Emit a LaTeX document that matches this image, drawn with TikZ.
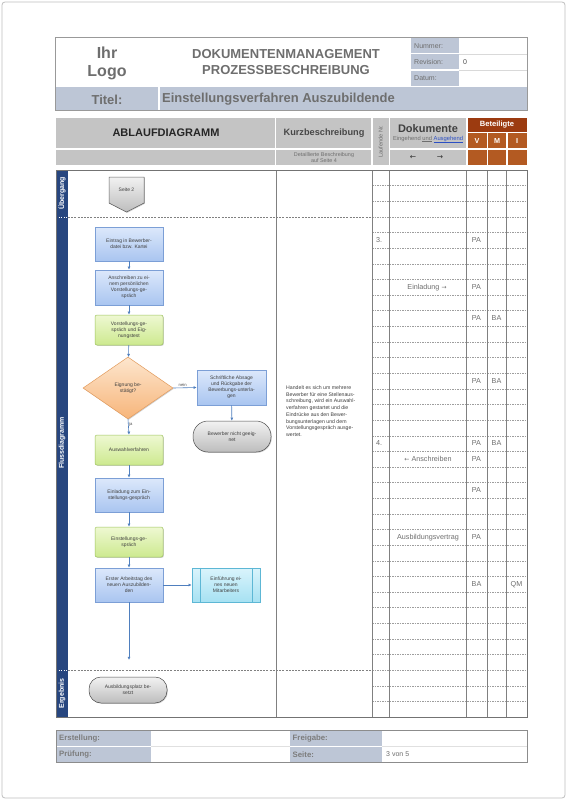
\documentclass[tikz,border=0pt]{standalone}
\usepackage{fontspec}
\setmainfont{Liberation Sans}
\newfontfamily\dejavu{DejaVu Sans}
\usetikzlibrary{shapes.geometric,arrows.meta,shadows}
\newcommand{\fz}[2]{\fontsize{#1}{#2}\selectfont}
\definecolor{lblue}{HTML}{BDC6D6}
\definecolor{hgrey}{HTML}{C4C4C4}
\definecolor{brdark}{HTML}{9C3B10}
\definecolor{brmid}{HTML}{B35A22}
\definecolor{band}{HTML}{27467F}
\definecolor{txtg}{HTML}{6E6E6E}
\definecolor{blueT}{HTML}{DCE8FB}
\definecolor{blueM}{HTML}{A9C5F0}
\definecolor{blueB}{HTML}{7C9FD6}
\definecolor{greenT}{HTML}{EEF8D2}
\definecolor{greenM}{HTML}{CDE98F}
\definecolor{greenB}{HTML}{9DC35C}
\definecolor{orT}{HTML}{FDE6CE}
\definecolor{orM}{HTML}{F7B57A}
\definecolor{orB}{HTML}{E39B5C}
\definecolor{gyT}{HTML}{F2F2F2}
\definecolor{gyM}{HTML}{BDBDBD}
\definecolor{cyT}{HTML}{DAF4FC}
\definecolor{cyM}{HTML}{A6E1F2}
\definecolor{cyB}{HTML}{5DB7D5}
\definecolor{arrowblue}{HTML}{4F7FBE}
\definecolor{linkblue}{HTML}{2B4FC4}
\tikzset{
  hdrtxt/.style={text=txtg, font=\bfseries\fz{13}{15}, inner sep=0pt},
  fieldlbl/.style={text=txtg, font=\fz{7}{8}, anchor=west, inner sep=0pt},
  footlbl/.style={text=txtg!90, font=\bfseries\fz{7.8}{9}, anchor=west, inner sep=0pt},
  tabtxt/.style={text=txtg, font=\fz{7.2}{8.2}, inner sep=0pt},
  bandtxt/.style={text=white, font=\bfseries\fz{7}{8}, rotate=90, inner sep=0pt},
  flowbox/.style={draw, line width=0.5pt, minimum width=68pt, align=center,
     font=\fz{5}{6}, text=black!75, inner sep=1pt,
     drop shadow={shadow xshift=0.8pt, shadow yshift=-0.8pt, opacity=0.3, fill=black!60}},
  bluebox/.style={flowbox, draw=blueB, top color=blueT, bottom color=blueM},
  greenbox/.style={flowbox, draw=greenB, top color=greenT, bottom color=greenM, rounded corners=2pt},
  cyanbox/.style={flowbox, draw=cyB, top color=cyT, bottom color=cyM},
  termbox/.style={flowbox, draw=black!70, top color=gyT, bottom color=gyM, rounded corners=12pt, minimum width=78pt},
  decbox/.style={flowbox, diamond, draw=orB, top color=orT, bottom color=orM, aspect=1.45, minimum width=90pt, minimum height=62pt, inner sep=0pt},
  flowarrow/.style={draw=arrowblue, line width=0.6pt, -{Latex[length=3.2pt,width=3pt]}},
  rowline/.style={draw=black!38, line width=0.4pt, dash pattern=on 1.5pt off 1pt},
  sepline/.style={draw=black!50, line width=0.5pt, dash pattern=on 2pt off 1.2pt},
  colline/.style={draw=black!50, line width=0.8pt},
  edgelbl/.style={font=\fz{4.2}{5}, text=black!70, inner sep=0.5pt}
}
\begin{document}
\begin{tikzpicture}[x=1pt,y=-1pt]
\useasboundingbox (0,0) rectangle (567,800);
\fill[white] (0,0) rectangle (567,800);
\draw[black!25, line width=0.8pt, rounded corners=3pt] (2,2) rectangle (565,798);

% ---------------- header ----------------
\draw[black!40, line width=0.6pt] (55,37) rectangle (527,110);
\fill[lblue] (411,38) rectangle (459,53.5);
\fill[lblue] (411,54.5) rectangle (459,69.5);
\fill[lblue] (411,70.5) rectangle (459,86);
\draw[black!15, line width=0.4pt] (459,54) -- (527,54) (459,70) -- (527,70);
\fill[lblue] (55.5,87) rectangle (158,109.5);
\fill[lblue] (159.5,87) rectangle (526.5,109.5);
\node[hdrtxt, font=\bfseries\fz{16}{18}] (ihr) at (107,53) {Ihr};
\node[hdrtxt, font=\bfseries\fz{16}{18}] (logo) at (107,73) {Logo};
\node[hdrtxt] (dok) at (286,54.5) {DOKUMENTENMANAGEMENT};
\node[hdrtxt] (proz) at (286,70.5) {PROZESSBESCHREIBUNG};
\node[fieldlbl] (num) at (414,46) {Nummer:};
\node[fieldlbl] (rev) at (414,62) {Revision:};
\node[fieldlbl] (dat) at (414,78) {Datum:};
\node[fieldlbl, text=black!70] (revv) at (463,62) {0};
\node[hdrtxt] (titel) at (107,99.5) {Titel:};
\node[hdrtxt, anchor=west] (titeltxt) at (162,99.5) {Einstellungsverfahren Auszubildende};

% ---------------- table header ----------------
\fill[hgrey] (56,118) rectangle (274.5,148);
\fill[hgrey] (56,149.5) rectangle (274.5,165);
\fill[hgrey] (276,118) rectangle (371,148);
\fill[hgrey] (276,149.5) rectangle (371,165);
\fill[hgrey] (372.5,118) rectangle (388.5,165);
\fill[hgrey] (390,118) rectangle (466,148);
\fill[hgrey] (390,149.5) rectangle (466,165);
\fill[brdark] (467.5,118) rectangle (527,131.5);
\fill[brmid] (467.5,133) rectangle (486.5,148);
\fill[brmid] (488,133) rectangle (506,148);
\fill[brmid] (507.5,133) rectangle (527,148);
\fill[brmid] (467.5,149.5) rectangle (486.5,165);
\fill[brmid] (488,149.5) rectangle (506,165);
\fill[brmid] (507.5,149.5) rectangle (527,165);
\node[hdrtxt, text=black!85, font=\bfseries\fz{11}{13}] (abl) at (166,133) {ABLAUFDIAGRAMM};
\node[hdrtxt, text=black!72, font=\bfseries\fz{9.2}{11}] (kurz) at (324,133) {Kurzbeschreibung};
\node[text=txtg, font=\fz{5.4}{6.4}, align=center, inner sep=0pt] (detail) at (324,157.5) {Detaillierte Beschreibung\\auf Seite 4};
\node[text=txtg, font=\fz{5.6}{6.5}, rotate=90, inner sep=0pt] (lfd) at (380.5,141.5) {Laufende Nr.};
\node[hdrtxt, text=black!75, font=\bfseries\fz{11}{13}] (doku) at (428,129) {Dokumente};
\node[text=txtg, font=\fz{5.8}{6.5}, inner sep=0pt] (eing) at (428,139.5) {Eingehend \underline{und} \textcolor{linkblue}{\underline{Ausgehend}}};
\node[text=black!80, font=\dejavu\fz{7.5}{8}, inner sep=0pt] (larr) at (413,157.5) {←};
\node[text=black!80, font=\dejavu\fz{7.5}{8}, inner sep=0pt] (rarr) at (440,157.5) {→};
\node[text=white, font=\bfseries\fz{7.6}{8.5}, inner sep=0pt] (bet) at (497,125) {Beteiligte};
\node[text=white, font=\bfseries\fz{7.2}{8.5}, inner sep=0pt] (cv) at (477,141) {V};
\node[text=white, font=\bfseries\fz{7.2}{8.5}, inner sep=0pt] (cm) at (497,141) {M};
\node[text=white, font=\bfseries\fz{7.2}{8.5}, inner sep=0pt] (ci) at (517,141) {I};

% ---------------- body grid ----------------
\foreach \k in {1,...,34} \draw[rowline] (372,{170+\k*15.63}) -- (527,{170+\k*15.63});
\draw[sepline] (68,217) -- (372,217);
\draw[sepline] (68,670) -- (372,670);
\fill[band] (56,170) rectangle (68,717);
\draw[white, line width=0.8pt, dash pattern=on 1pt off 1.5pt] (56,217) -- (68,217);
\draw[white, line width=0.8pt, dash pattern=on 1pt off 1.5pt] (56,670) -- (68,670);
\foreach \x in {276,372,389,466,487,506} \draw[colline] (\x,170) -- (\x,717);
\draw[black!55, line width=0.8pt] (56,170) rectangle (527,717);
\node[bandtxt] (ueb) at (62,193.5) {Übergang};
\node[bandtxt] (fluss) at (62,443) {Flussdiagramm};
\node[bandtxt] (erg) at (62,693.5) {Ergebnis};

% ---------------- description ----------------
\node[anchor=north west, align=left, text=black!75, font=\fz{5.2}{6.75}, inner sep=0pt] (desc) at (286,385.5)
 {Handelt es sich um mehrere\\Bewerber für eine Stellenaus-\\schreibung, wird ein Auswahl-\\verfahren gestartet und die\\Eindrücke aus den Bewer-\\bungsunterlagen und dem\\Vorstellungsgespräch ausge-\\wertet.};

% ---------------- right table entries ----------------
\node[tabtxt, anchor=west] (nr3) at (376,240.3) {3.};
\node[tabtxt] (p5) at (476.5,240.3) {PA};
\node[tabtxt] (d8) at (427,287.2) {Einladung {\dejavu\fz{6}{6}→}};
\node[tabtxt] (p8) at (476.5,287.2) {PA};
\node[tabtxt] (p10) at (476.5,318.5) {PA};
\node[tabtxt] (b10) at (496.5,318.5) {BA};
\node[tabtxt] (p14) at (476.5,381) {PA};
\node[tabtxt] (b14) at (496.5,381) {BA};
\node[tabtxt, anchor=west] (nr4) at (376,443.5) {4.};
\node[tabtxt] (p18) at (476.5,443.5) {PA};
\node[tabtxt] (b18) at (496.5,443.5) {BA};
\node[tabtxt] (d19) at (428,459.1) {{\dejavu\fz{6}{6}←} Anschreiben};
\node[tabtxt] (p19) at (476.5,459.1) {PA};
\node[tabtxt] (p21) at (476.5,490.4) {PA};
\node[tabtxt] (d24) at (428,537.3) {Ausbildungsvertrag};
\node[tabtxt] (p24) at (476.5,537.3) {PA};
\node[tabtxt] (b27) at (476.5,584.2) {BA};
\node[tabtxt] (q27) at (516.5,584.2) {QM};

% ---------------- flowchart ----------------
\filldraw[draw=black!60, line width=0.5pt, top color=gyT, bottom color=gyM,
  drop shadow={shadow xshift=0.8pt, shadow yshift=-0.8pt, opacity=0.3, fill=black!60}]
  (109,177) -- (144,177) -- (144,203) -- (126.5,212) -- (109,203) -- cycle;
\node[font=\fz{5}{6}, text=black!75, inner sep=0pt] (seite) at (126.5,190) {Seite 2};

\node[bluebox, minimum height=34pt] (b1) at (129,244) {Eintrag in Bewerber-\\datei bzw. Kartei};
\node[bluebox, minimum height=35pt] (b2) at (129,287.5) {Anschreiben zu ei-\\nem persönlichen\\Vorstellungs-ge-\\spräch};
\node[greenbox, minimum height=30pt] (b3) at (129,330) {Vorstellungs-ge-\\spräch und Eig-\\nungstest};
\node[decbox] (dec) at (128,388) {Eignung be-\\stätigt?};
\node[bluebox, minimum width=69pt, minimum height=35pt] (abs) at (231.5,387.5) {Schriftliche Absage\\und Rückgabe der\\Bewerbungs-unterla-\\gen};
\node[termbox, minimum height=31pt, rounded corners=15pt] (bew) at (232,436.5) {Bewerber nicht geeig-\\net};
\node[greenbox, minimum height=30pt] (ausw) at (129,450) {Auswahlverfahren};
\node[bluebox, minimum height=34pt] (einl) at (129,495) {Einladung zum Ein-\\stellungs-gespräch};
\node[greenbox, minimum height=30pt] (gespr) at (129,542) {Einstellungs-ge-\\spräch};
\node[bluebox, minimum height=34pt] (erst) at (129,585) {Erster Arbeitstag des\\neuen Auszubilden-\\den};
\node[cyanbox, minimum height=34pt] (einf) at (226,585) {Einführung ei-\\nes neuen\\Mitarbeiters};
\draw[draw=cyB, line width=0.5pt] ([xshift=8pt]einf.north west) -- ([xshift=8pt]einf.south west);
\draw[draw=cyB, line width=0.5pt] ([xshift=-8pt]einf.north east) -- ([xshift=-8pt]einf.south east);
\node[termbox, minimum height=26pt] (platz) at (128,690) {Ausbildungsplatz be-\\setzt};
\coordinate (flowend) at (129,660);

\draw[flowarrow] (b1) -- (b2);
\draw[flowarrow] (b2) -- (b3);
\draw[flowarrow] (b3) -- (dec);
\draw[flowarrow] (dec.east) -- node[edgelbl, above, pos=0.4] (nein) {nein} (abs.west);
\draw[flowarrow] (abs) -- (bew);
\draw[flowarrow] (dec.south) -- node[edgelbl, right, pos=0.35] (ja) {ja} (ausw.north);
\draw[flowarrow] (ausw) -- (einl);
\draw[flowarrow] (einl) -- (gespr);
\draw[flowarrow] (gespr) -- (erst);
\draw[flowarrow] (erst.east) -- (einf.west);
\draw[flowarrow] (erst.south) -- (flowend);

% ---------------- footer ----------------
\draw[black!45, line width=0.6pt] (56,730) rectangle (527,762);
\fill[lblue] (56.5,730.5) rectangle (151,745.5);
\fill[lblue] (56.5,747) rectangle (151,761.5);
\fill[lblue] (290,730.5) rectangle (382,745.5);
\fill[lblue] (290,747) rectangle (382,761.5);
\draw[black!12, line width=0.4pt] (151,746.3) -- (290,746.3) (382,746.3) -- (526.5,746.3);
\node[footlbl] (erst1) at (59,738) {Erstellung:};
\node[footlbl] (pruef) at (59,754.5) {Prüfung:};
\node[footlbl] (frei) at (292.5,738) {Freigabe:};
\node[footlbl] (seitel) at (292.5,754.5) {Seite:};
\node[fieldlbl, font=\fz{7}{8}] (seitev) at (386,754.5) {3 von 5};
\end{tikzpicture}
\end{document}
